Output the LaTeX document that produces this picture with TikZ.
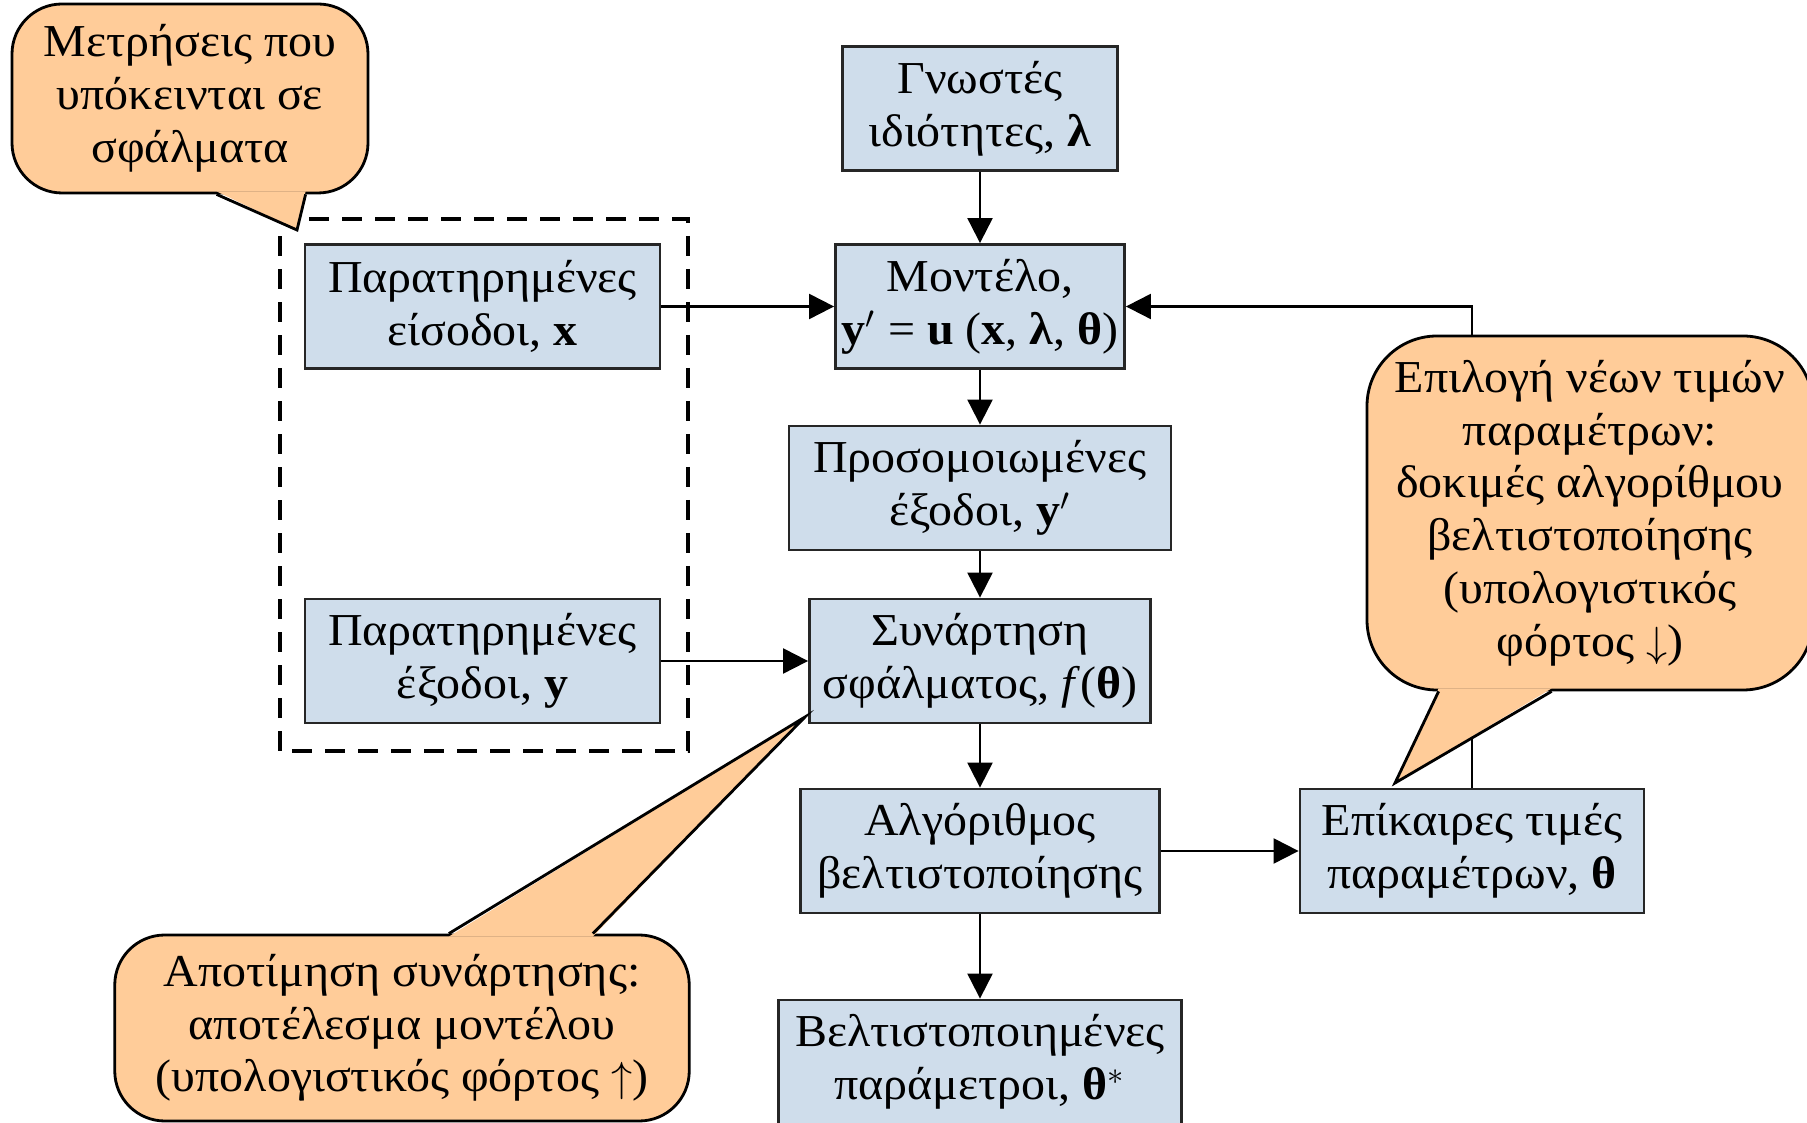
\documentclass[tikz,border=0pt]{standalone}
\usepackage{fontspec}
\setmainfont[FakeStretch=1.05]{Liberation Serif}
\usetikzlibrary{arrows.meta,calc}
\definecolor{boxblue}{RGB}{207,221,235}
\definecolor{peach}{RGB}{255,204,153}
\begin{document}
\begin{tikzpicture}[font=\fontsize{13}{15}\selectfont,
	>={Triangle[length=0.25cm,width=0.25cm]},
	blk/.style={draw=black!85,line width=0.8pt,fill=boxblue,align=center,inner sep=0pt,minimum height=1.24cm},
	note/.style={draw,line width=0.8pt,fill=peach,align=center,inner sep=0pt,rounded corners=0.5cm},
	link/.style={line width=0.6pt,->}]
	\useasboundingbox (0,0) rectangle (18.07,11.23);
	\node[blk,minimum width=2.75cm] (known) at (9.80,10.145) {Γνωστές\\ιδιότητες, \textbf{λ}};
	\node[blk,minimum width=2.89cm] (model) at (9.80,8.165) {Μοντέλο,\\\textbf{y}$^{\prime}$ = \textbf{u} (\textbf{x}, \textbf{λ}, \textbf{θ})};
	\node[blk,minimum width=3.82cm] (sim) at (9.80,6.35) {Προσομοιωμένες\\έξοδοι, \textbf{y}$^{\prime}$};
	\node[blk,minimum width=3.41cm] (err) at (9.80,4.62) {Συνάρτηση\\σφάλματος, \textit{f}(\textbf{θ})};
	\node[blk,minimum width=3.59cm] (alg) at (9.80,2.72) {Αλγόριθμος\\βελτιστοποίησης};
	\node[blk,minimum width=4.03cm] (best) at (9.80,0.61) {Βελτιστοποιημένες\\παράμετροι, \textbf{θ}$^{*}$};
	\node[blk,minimum width=3.44cm] (cur) at (14.72,2.72) {Επίκαιρες τιμές\\παραμέτρων, \textbf{θ}};
	\node[blk,minimum width=3.55cm] (obsx) at (4.825,8.165) {Παρατηρημένες\\είσοδοι, \textbf{x}};
	\node[blk,minimum width=3.55cm] (obsy) at (4.825,4.62) {Παρατηρημένες\\έξοδοι, \textbf{y}};
	\draw[line width=1.3pt,dash pattern=on 0.2cm off 0.13cm] (2.80,3.72) rectangle (6.88,9.04);
	\draw[link] (known) -- (model);
	\draw[link] (obsx) -- (model);
	\draw[link] (model) -- (sim);
	\draw[link] (sim) -- (err);
	\draw[link] (obsy) -- (err);
	\draw[link] (err) -- (alg);
	\draw[link] (alg) -- (best);
	\draw[link] (alg) -- (cur);
	\draw[link] (cur.north) |- (model.east);
	% callouts
	\node[note,minimum width=3.56cm,minimum height=1.89cm] (meas) at (1.90,10.245) {Μετρήσεις που\\υπόκεινται σε\\σφάλματα};
	\coordinate (meastip) at (2.97,8.93);
	\fill[peach] ($(meas.south west)+(2.06,0.03)$) -- (meastip) -- ($(meas.south west)+(2.95,0.03)$) -- cycle;
	\draw[line width=0.8pt] ($(meas.south west)+(2.06,0)$) -- (meastip) -- ($(meas.south west)+(2.95,0)$);
	\node[note,rounded corners=0.7cm,minimum width=4.46cm,minimum height=3.54cm] (pick) at (15.90,6.10) {Επιλογή νέων τιμών\\παραμέτρων:\\δοκιμές αλγορίθμου\\βελτιστοποίησης\\(υπολογιστικός\\φόρτος $\downarrow$)};
	\coordinate (picktip) at (13.95,3.40);
	\fill[peach] ($(pick.south west)+(0.73,0.03)$) -- (picktip) -- ($(pick.south west)+(1.86,0.03)$) -- cycle;
	\draw[line width=0.8pt] ($(pick.south west)+(0.73,0)$) -- (picktip) -- ($(pick.south west)+(1.86,0)$);
	\node[note,minimum width=5.745cm,minimum height=1.86cm] (eval) at (4.02,0.95) {Αποτίμηση συνάρτησης:\\αποτέλεσμα μοντέλου\\(υπολογιστικός φόρτος $\uparrow$)};
	\coordinate (evaltip) at (8.05,4.06);
	\fill[peach] ($(eval.north west)+(3.355,-0.03)$) -- (evaltip) -- ($(eval.north west)+(4.795,-0.03)$) -- cycle;
	\draw[line width=0.8pt] ($(eval.north west)+(3.355,0)$) -- (evaltip) -- ($(eval.north west)+(4.795,0)$);
\end{tikzpicture}
\end{document}
